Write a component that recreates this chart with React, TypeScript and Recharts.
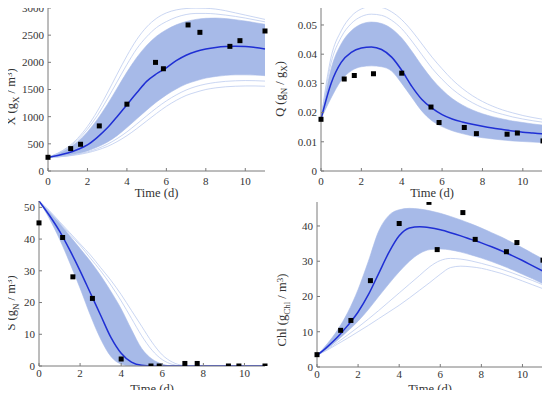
import React from 'react';
import { ComposedChart, Area, Line, Scatter, XAxis, YAxis } from 'recharts';

// model time grid (d) and measurement days
const timeGrid = [0, 0.5, 1, 1.5, 2, 2.5, 3, 3.5, 4, 4.5, 5, 5.5, 6, 6.5, 7, 7.5, 8, 8.5, 9, 9.5, 10, 10.5, 11];
const obsTime = [0, 1.15, 1.65, 2.6, 4.0, 5.45, 5.85, 7.1, 7.7, 9.22, 9.73, 11.0];
const timeTicks = [0, 2, 4, 6, 8, 10];

// X (biomass)
const xMean = [250, 285, 330, 395, 480, 620, 790, 1000, 1220, 1440, 1650, 1790, 1900, 2030, 2130, 2200, 2245, 2275, 2292, 2297, 2292, 2272, 2245];
const xLow = [250, 262, 285, 320, 370, 440, 530, 650, 800, 960, 1120, 1270, 1400, 1510, 1600, 1660, 1710, 1740, 1760, 1770, 1770, 1765, 1755];
const xHigh = [250, 320, 410, 540, 720, 950, 1220, 1520, 1820, 2090, 2310, 2480, 2600, 2690, 2750, 2790, 2810, 2815, 2805, 2785, 2760, 2730, 2700];
const xOuterHigh = [250, 330, 440, 600, 820, 1100, 1430, 1780, 2120, 2420, 2650, 2810, 2910, 2965, 2990, 2998, 2995, 2980, 2950, 2910, 2870, 2830, 2790];
const xMidHigh = [250, 325, 425, 570, 770, 1020, 1320, 1640, 1960, 2250, 2470, 2640, 2750, 2830, 2880, 2900, 2900, 2890, 2870, 2845, 2815, 2780, 2745];
const xOuterLow = [250, 258, 275, 300, 335, 385, 450, 540, 650, 780, 920, 1060, 1190, 1300, 1390, 1450, 1500, 1530, 1550, 1560, 1565, 1565, 1560];
const xMidLow = [250, 260, 280, 310, 352, 410, 490, 595, 720, 865, 1015, 1160, 1290, 1400, 1490, 1555, 1600, 1630, 1650, 1660, 1665, 1662, 1655];
const xObs = [252, 412, 492, 830, 1230, 1999, 1882, 2688, 2552, 2294, 2399, 2577];
const xTicks = [0, 500, 1000, 1500, 2000, 2500, 3000];

// Q (cell quota)
const qMean = [0.0178, 0.030, 0.0372, 0.0406, 0.0421, 0.0425, 0.0416, 0.0390, 0.0345, 0.0290, 0.0245, 0.0215, 0.0193, 0.0178, 0.0168, 0.0160, 0.0153, 0.0147, 0.0142, 0.0137, 0.0133, 0.0130, 0.0127];
const qLow = [0.0178, 0.025, 0.031, 0.0343, 0.0357, 0.036, 0.0357, 0.0342, 0.030, 0.0252, 0.0205, 0.0172, 0.0152, 0.0138, 0.0128, 0.0120, 0.0114, 0.0110, 0.0106, 0.0103, 0.0101, 0.0099, 0.0097];
const qHigh = [0.0178, 0.035, 0.0435, 0.048, 0.0503, 0.051, 0.0505, 0.0487, 0.0455, 0.041, 0.036, 0.0315, 0.0278, 0.0248, 0.0226, 0.0209, 0.0196, 0.0186, 0.0178, 0.0171, 0.0166, 0.0161, 0.0157];
const qMidHigh = [0.0178, 0.037, 0.0458, 0.0505, 0.0529, 0.0537, 0.0533, 0.0516, 0.0487, 0.0445, 0.0398, 0.0352, 0.0314, 0.0281, 0.0255, 0.0234, 0.0217, 0.0204, 0.0194, 0.0185, 0.0178, 0.0172, 0.0167];
const qOuterHigh = [0.0178, 0.039, 0.048, 0.053, 0.0555, 0.0563, 0.056, 0.0545, 0.0518, 0.048, 0.0435, 0.039, 0.035, 0.0313, 0.0283, 0.0258, 0.0238, 0.0222, 0.0209, 0.0199, 0.0190, 0.0183, 0.0177];
const qObs = [0.0177, 0.0315, 0.0327, 0.0333, 0.0335, 0.0219, 0.0166, 0.0149, 0.0128, 0.0126, 0.0130, 0.0103];
const qTicks = [0, 0.01, 0.02, 0.03, 0.04, 0.05];

// S (nitrogen substrate)
const sMean = [52, 47.5, 42.5, 36.5, 30, 23, 16, 9, 4, 1.2, 0.2, 0, 0, 0, 0, 0, 0, 0, 0, 0, 0, 0, 0];
const sLow = [52, 46.5, 40, 32.5, 24.5, 16, 8.5, 3, 0.6, 0, 0, 0, 0, 0, 0, 0, 0, 0, 0, 0, 0, 0, 0];
const sHigh = [52, 48.5, 45, 41, 37, 33, 28.5, 23.5, 18, 11.5, 5.5, 2.2, 0.6, 0, 0, 0, 0, 0, 0, 0, 0, 0, 0];
const sOuterHigh = [52, 49, 45.5, 42, 38.5, 35, 31, 27, 22.5, 17.5, 12.5, 7.5, 3.5, 1.2, 0.2, 0, 0, 0, 0, 0, 0, 0, 0];
const sMidHigh = [52, 48.8, 45.2, 41.5, 38, 34, 30, 25.5, 20.5, 15, 9.5, 5, 2, 0.5, 0, 0, 0, 0, 0, 0, 0, 0, 0];
const sObs = [45.1, 40.5, 28.1, 21.3, 2.2, 0, 0, 0.8, 0.8, 0, 0, 0];
const sTicks = [0, 10, 20, 30, 40, 50];

// Chl (chlorophyll)
const chlMean = [3.3, 5.7, 8.5, 11.8, 15.6, 20.5, 26.5, 32.5, 37.2, 39.4, 39.8, 39.5, 38.9, 38.1, 37.2, 36.2, 35.2, 34.1, 32.9, 31.6, 30.2, 28.7, 27.2];
const chlLow = [3.3, 5.2, 7.6, 10.2, 13, 16.3, 20, 23.6, 27, 30, 32.2, 33.3, 33.5, 33.2, 32.6, 31.8, 30.9, 29.9, 28.8, 27.6, 26.3, 25, 23.6];
const chlHigh = [3.3, 6.6, 10.5, 15.5, 22, 30, 38.5, 43, 44.6, 45, 44.8, 44.3, 43.6, 42.7, 41.7, 40.6, 39.4, 38.1, 36.8, 35.3, 33.8, 32.2, 30.6];
const chlOuterLow = [3.3, 4.8, 6.5, 8.2, 10, 11.8, 13.7, 15.6, 17.5, 19.6, 21.8, 24, 26.3, 28.2, 28.6, 28.4, 28, 27.3, 26.5, 25.5, 24.4, 23.3, 22.2];
const chlMidLow = [3.3, 5, 7, 9.1, 11.3, 13.6, 16, 18.5, 21, 23.5, 26, 28.5, 30.2, 30.8, 30.6, 30.1, 29.4, 28.6, 27.7, 26.7, 25.6, 24.5, 23.3];
const chlObs = [3.5, 10.4, 13.2, 24.5, 40.7, 46.7, 33.3, 43.8, 36.2, 32.7, 35.3, 30.3];
const chlTicks = [0, 10, 20, 30, 40];

const FONT = '"Liberation Serif", "Times New Roman", serif';
const COLORS = {
  band: '#a7bae8',
  faint: '#bccbef',
  mean: '#1f2fd4',
  obs: '#000000',
  axis: '#7a7a7a',
  box: '#cccccc',
  text: '#333333',
};

type Seg = { text: string; shift?: number };

const buildCurves = (mean: number[], low: number[], high: number[], extras: number[][]) =>
  timeGrid.map((t, i) => {
    const row: Record<string, any> = { t, mean: mean[i], band: [low[i], high[i]] };
    extras.forEach((e, k) => {
      row['e' + k] = e[i];
    });
    return row;
  });

const buildObs = (values: number[]) => obsTime.map((t, i) => ({ t, y: values[i] }));

// rotated y-axis title with sub/superscripts
function YTitle({ x, y, segs }: { x: number; y: number; segs: Seg[] }) {
  let cur = 0;
  return (
    <text
      x={x}
      y={y}
      transform={`rotate(-90 ${x} ${y})`}
      textAnchor="middle"
      fontFamily={FONT}
      fontSize={12.5}
      fill={COLORS.text}
    >
      {segs.map((s, i) => {
        const target = s.shift ? s.shift * 3.5 : 0;
        const dy = target - cur;
        cur = target;
        return (
          <tspan key={i} dy={dy} fontSize={s.shift ? 9 : 12.5}>
            {s.text}
          </tspan>
        );
      })}
    </text>
  );
}

const SquareDot = (p: any) => (
  <rect x={p.cx - 2.5} y={p.cy - 2.5} width={5} height={5} fill={COLORS.obs} />
);

// x-axis title, placed from the axis box
const TimeTitle = (offset: number) => (props: any) => {
  const vb = props.viewBox || {};
  const x = vb.x + vb.width / 2;
  const y = vb.y + vb.height - offset;
  return (
    <text x={x} y={y} textAnchor="middle" fontFamily={FONT} fontSize={12.5} fill={COLORS.text}>
      Time (d)
    </text>
  );
};

interface PanelProps {
  left: number;
  top: number;
  plotLeft: number;
  plotTop: number;
  plotRight: number;
  plotBottom: number;
  yMax: number;
  yTicks: number[];
  mean: number[];
  low: number[];
  high: number[];
  extras: number[][];
  obs: number[];
  title: Seg[];
  titleX: number;
  titleY: number;
  xTickGap: number;
  xLabelOffset: number;
}

const W = 275;
const H = 199;

function Panel(p: PanelProps) {
  const curves = buildCurves(p.mean, p.low, p.high, p.extras);
  const points = buildObs(p.obs);
  const tickStyle = { fontFamily: FONT, fontSize: 11, fill: COLORS.text };
  return (
    <div style={{ position: 'absolute', left: p.left, top: p.top, width: W, height: H }}>
      <ComposedChart
        width={W}
        height={H}
        data={curves}
        margin={{ top: p.plotTop, right: W - p.plotRight, bottom: 0, left: 0 }}
        style={{ overflow: 'visible' }}
      >
        <XAxis
          dataKey="t"
          type="number"
          domain={[0, 11]}
          ticks={timeTicks}
          height={H - p.plotBottom}
          stroke={COLORS.axis}
          tick={tickStyle}
          tickSize={-3}
          tickMargin={p.xTickGap}
          label={{ content: TimeTitle(p.xLabelOffset) }}
        />
        <XAxis
          xAxisId="top"
          orientation="top"
          type="number"
          domain={[0, 11]}
          height={0}
          stroke={COLORS.box}
          tick={false}
          tickLine={false}
        />
        <YAxis
          type="number"
          domain={[0, p.yMax]}
          ticks={p.yTicks}
          allowDataOverflow
          width={p.plotLeft}
          stroke={COLORS.axis}
          tick={tickStyle}
          tickSize={-3}
          tickMargin={7}
          label={{ content: () => <YTitle x={p.titleX} y={p.titleY} segs={p.title} /> }}
        />
        <YAxis
          yAxisId="right"
          orientation="right"
          type="number"
          domain={[0, 1]}
          width={0}
          stroke={COLORS.box}
          tick={false}
          tickLine={false}
        />
        <Area
          dataKey="band"
          type="monotone"
          stroke={COLORS.band}
          strokeWidth={0.6}
          fill={COLORS.band}
          fillOpacity={1}
          isAnimationActive={false}
        />
        {p.extras.map((_, k) => (
          <Line
            key={k}
            dataKey={'e' + k}
            type="monotone"
            stroke={COLORS.faint}
            strokeWidth={0.8}
            dot={false}
            isAnimationActive={false}
          />
        ))}
        <Line
          dataKey="mean"
          type="monotone"
          stroke={COLORS.mean}
          strokeWidth={1.5}
          dot={false}
          isAnimationActive={false}
        />
        <Scatter data={points} dataKey="y" shape={SquareDot} isAnimationActive={false} />
      </ComposedChart>
    </div>
  );
}

export default function App() {
  return (
    <div
      style={{
        position: 'relative',
        width: 550,
        height: 398,
        margin: -8,
        background: '#fff',
        fontFamily: FONT,
        overflow: 'hidden',
      }}
    >
      <style>{`.recharts-surface{overflow:visible}.recharts-text,.recharts-label{font-family:${FONT}}`}</style>
      <Panel
        left={0}
        top={0}
        plotLeft={48}
        plotTop={8}
        plotRight={265}
        plotBottom={171}
        yMax={3000}
        yTicks={xTicks}
        mean={xMean}
        low={xLow}
        high={xHigh}
        extras={[xOuterHigh, xMidHigh, xOuterLow, xMidLow]}
        obs={xObs}
        title={[{ text: 'X (g' }, { text: 'X', shift: 1 }, { text: ' / m' }, { text: '3', shift: -1 }, { text: ')' }]}
        titleX={15}
        titleY={97}
        xTickGap={9}
        xLabelOffset={2}
      />
      <Panel
        left={275}
        top={0}
        plotLeft={46}
        plotTop={6}
        plotRight={268}
        plotBottom={171}
        yMax={0.0565}
        yTicks={qTicks}
        mean={qMean}
        low={qLow}
        high={qHigh}
        extras={[qOuterHigh, qMidHigh]}
        obs={qObs}
        title={[{ text: 'Q (g' }, { text: 'N', shift: 1 }, { text: ' / g' }, { text: 'X', shift: 1 }, { text: ')' }]}
        titleX={8.5}
        titleY={89}
        xTickGap={9}
        xLabelOffset={2}
      />
      <Panel
        left={0}
        top={199}
        plotLeft={39}
        plotTop={2}
        plotRight={265}
        plotBottom={167}
        yMax={52}
        yTicks={sTicks}
        mean={sMean}
        low={sLow}
        high={sHigh}
        extras={[sOuterHigh, sMidHigh]}
        obs={sObs}
        title={[{ text: 'S (g' }, { text: 'N', shift: 1 }, { text: ' / m' }, { text: '3', shift: -1 }, { text: ')' }]}
        titleX={15}
        titleY={104}
        xTickGap={6}
        xLabelOffset={5}
      />
      <Panel
        left={275}
        top={199}
        plotLeft={42}
        plotTop={3}
        plotRight={268}
        plotBottom={168}
        yMax={46.8}
        yTicks={chlTicks}
        mean={chlMean}
        low={chlLow}
        high={chlHigh}
        extras={[chlOuterLow, chlMidLow]}
        obs={chlObs}
        title={[{ text: 'Chl (g' }, { text: 'Chl', shift: 1 }, { text: ' / m' }, { text: '3', shift: -1 }, { text: ')' }]}
        titleX={11}
        titleY={111}
        xTickGap={6}
        xLabelOffset={5}
      />
    </div>
  );
}
